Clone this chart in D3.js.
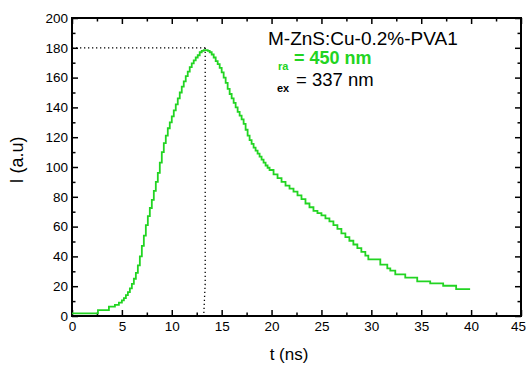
<!DOCTYPE html>
<html>
<head>
<meta charset="utf-8">
<script src="https://cdn.jsdelivr.net/npm/d3@7"></script>
<style>
  body { margin: 0; background: #fff; }
  svg text { font-family: "Liberation Sans", Arial, sans-serif; fill: #000; }
</style>
</head>
<body>
<svg id="chart" width="526" height="372"></svg>
<script>
// 衰減曲線資料 (t 單位 ns, I 單位 a.u)
const timeNs = [0, 2.6, 3.7, 4.3, 4.7,
  5.0, 5.2, 5.4, 5.6, 5.8, 6.0, 6.2, 6.4, 6.6, 6.8, 7.0, 7.2, 7.4, 7.6, 7.8, 8.0, 8.2, 8.4, 8.6, 8.8,
  9.0, 9.2, 9.4, 9.6, 9.8, 10.0, 10.2, 10.4, 10.6, 10.8, 11.0, 11.2, 11.4, 11.6, 11.8, 12.0, 12.2, 12.4,
  12.6, 12.8, 13.0, 13.2, 13.4, 13.6, 13.8, 14.0, 14.2, 14.4, 14.6, 14.8, 15.0, 15.2, 15.4, 15.6, 15.8,
  16.0, 16.2, 16.4, 16.6, 16.8, 17.0, 17.2, 17.4, 17.6, 17.8, 18.0, 18.2, 18.4, 18.6, 18.8, 19.0, 19.2,
  19.4, 19.6, 19.8, 20.2, 20.6, 21.0, 21.4, 21.8, 22.2, 22.6, 23.0, 23.4, 23.8, 24.2, 24.6, 25.0, 25.4,
  25.8, 26.2, 26.6, 27.0, 27.4, 27.8, 28.2, 28.6, 29.0, 29.4, 29.7, 30.9, 31.6, 31.9, 32.4, 33.4, 34.6,
  35.9, 37.2, 38.5, 39.9];
const intensity = [1.8, 4, 6.3, 7.5, 9,
  10.5, 12, 14, 16, 18.5, 21.5, 25, 29, 34, 40, 47, 54, 61, 67, 72.5, 78, 84, 90, 96, 103,
  110, 116, 121, 126, 130, 134, 138, 142, 146, 150, 154, 157.5, 161, 164, 167, 169.5, 171.5, 173.5,
  175, 177, 178, 178.5, 178.5, 178, 177, 175.5, 173.5, 171, 169, 166.5, 163.5, 160, 156.5, 152.5, 149,
  146, 143, 140, 137, 134.5, 132, 129, 125, 121, 118, 115.5, 113, 111, 109, 107, 105, 103,
  101, 99.5, 98, 95, 92.5, 90, 87.5, 85.5, 83.5, 81, 78.5, 75.5, 73, 70.5, 69, 67.5, 65.5,
  63.5, 61, 58.5, 55.5, 53, 50.5, 48, 45.5, 43, 40.5, 38, 34.5, 32, 30.5, 28, 25.7, 23.3,
  21.9, 20.3, 18.1, 18.1];

// 峰值虛線
const peakH = [[0, 180], [13.35, 180]];
const peakV = [[13.35, 180], [13.35, 22], [13.2, 0]];

// 刻度
const xMajor = [0, 5, 10, 15, 20, 25, 30, 35, 40, 45];
const xMinor = [2.5, 7.5, 12.5, 17.5, 22.5, 27.5, 32.5, 37.5, 42.5];
const yMajor = [0, 20, 40, 60, 80, 100, 120, 140, 160, 180, 200];
const yMinor = [10, 30, 50, 70, 90, 110, 130, 150, 170, 190];

const green = '#22d422';

const svg = d3.select('#chart');
const margin = { top: 18, right: 5, bottom: 56, left: 72 };
const width = 526, height = 372;

const x = d3.scaleLinear().domain([0, 45]).range([margin.left, width - margin.right]);
const y = d3.scaleLinear().domain([0, 200]).range([height - margin.bottom, margin.top]);

// 畫軸 (刻度朝內)
function drawAxis(axisFn, pos, values, size, labels) {
  const g = svg.append('g')
    .attr('transform', pos)
    .call(axisFn.tickValues(values).tickSizeInner(-size).tickSizeOuter(0)
      .tickPadding(labels ? 5 : 0)
      .tickFormat(labels ? d3.format('d') : ''));
  g.select('.domain').remove();
  g.selectAll('.tick line').attr('stroke', '#000').attr('stroke-width', 1.5);
  g.selectAll('text').style('font-size', '13.5px');
  return g;
}

const posBottom = `translate(0,${y(0)})`, posTop = `translate(0,${y(200)})`;
const posLeft = `translate(${x(0)},0)`, posRight = `translate(${x(45)},0)`;

const xl = drawAxis(d3.axisBottom(x), posBottom, xMajor, 6, true);
// 最右邊的 45 稍微左移，避免被裁掉
xl.selectAll('text').filter(d => d === 45).attr('dx', -3);
drawAxis(d3.axisBottom(x), posBottom, xMinor, 3.5, false);
drawAxis(d3.axisTop(x), posTop, xMajor, 6, false);
drawAxis(d3.axisTop(x), posTop, xMinor, 3.5, false);
const yl = drawAxis(d3.axisLeft(y), posLeft, yMajor, 6, true);
yl.selectAll('text').attr('x', -4);
drawAxis(d3.axisLeft(y), posLeft, yMinor, 3.5, false);
drawAxis(d3.axisRight(y), posRight, yMajor, 6, false);
drawAxis(d3.axisRight(y), posRight, yMinor, 3.5, false);

// 外框
svg.append('rect')
  .attr('x', x(0)).attr('y', y(200))
  .attr('width', x(45) - x(0)).attr('height', y(0) - y(200))
  .attr('fill', 'none').attr('stroke', '#000').attr('stroke-width', 2);

// 虛線
const pl = d3.line().x(d => x(d[0])).y(d => y(d[1]));
[peakH, peakV].forEach(p => {
  svg.append('path').attr('d', pl(p))
    .attr('fill', 'none').attr('stroke', '#000')
    .attr('stroke-width', 1.3).attr('stroke-dasharray', '1.3,2.7');
});

// 曲線
const pts = timeNs.map((t, i) => [t, intensity[i]]);
svg.append('path')
  .attr('d', d3.line().x(d => x(d[0])).y(d => y(d[1])).curve(d3.curveStepAfter)(pts))
  .attr('fill', 'none').attr('stroke', green).attr('stroke-width', 1.8);

// 軸標題
svg.append('text')
  .attr('x', 289).attr('y', 360)
  .attr('text-anchor', 'middle').style('font-size', '17px')
  .text('t (ns)');
svg.append('text')
  .attr('transform', 'translate(23,160) rotate(-90)')
  .attr('text-anchor', 'middle').style('font-size', '18px')
  .text('I (a.u)');

// 標註
svg.append('text').attr('x', 268).attr('y', 45)
  .style('font-size', '19px').text('M-ZnS:Cu-0.2%-PVA1');
svg.append('text').attr('x', 278).attr('y', 70)
  .style('font-size', '11px').style('font-weight', 'bold').style('fill', green).text('ra');
svg.append('text').attr('x', 294).attr('y', 64)
  .style('font-size', '18px').style('font-weight', 'bold').style('fill', green).text('= 450 nm');
svg.append('text').attr('x', 277).attr('y', 92)
  .style('font-size', '11px').style('font-weight', 'bold').text('ex');
svg.append('text').attr('x', 296).attr('y', 86)
  .style('font-size', '18.5px').text('= 337 nm');
</script>
</body>
</html>
